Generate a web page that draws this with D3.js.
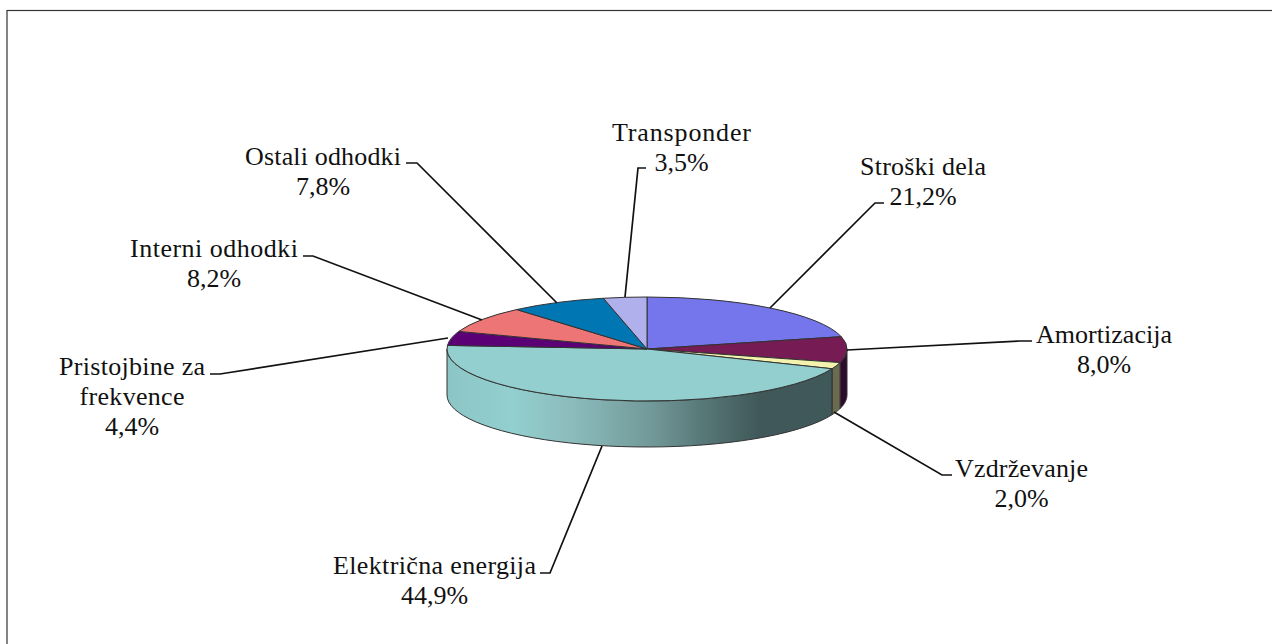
<!DOCTYPE html>
<html><head><meta charset="utf-8">
<script src="https://cdnjs.cloudflare.com/ajax/libs/d3/7.8.5/d3.min.js"></script>
<style>html,body{margin:0;padding:0;background:#fff}svg{display:block}
text{font-family:"Liberation Serif",serif;font-size:26px;fill:#111;text-anchor:middle}</style>
</head><body><script>
const values=[21.2,8.0,2.0,44.9,4.4,8.2,7.8,3.5];
const labelLines=[["Stroški dela","21,2%"],["Amortizacija","8,0%"],["Vzdrževanje","2,0%"],["Električna energija","44,9%"],["Pristojbine za","frekvence","4,4%"],["Interni odhodki","8,2%"],["Ostali odhodki","7,8%"],["Transponder","3,5%"]];
const labelLineWidths=[[126,0],[136,0],[133,0],[203,0],[146,105,0],[168,0],[156,0],[139,0]];
const topColors=["#7575ec","#761b54","#f3f3ad","#93cfcf","#5b0075","#ee7575","#0076b2","#b0b0ec"];
const wallColors=["#5050a0","#2e0a2c","#6b6b50","#3f5859","#3a004a","#a05050","#00507a","#7878a0"];
const labelCenterX=[923,1104,1021.5,434.5,132,214,323,681.5];
const labelBaseY=[175,343,477,574,375,257,165,141];
const leaderStart=[[884,203],[1032,341],[952,475],[540,573],[210,374],[303,256],[406,163],[646,168]];
const leaderElbow=[[875,203],[1020,341],[942,475],[550,573],[220,374],[313,256],[417,163],[638,168]];
const leaderEnd=[[770,308],[847,350],[834,412],[602,446],[448,338],[482,320],[557,303],[625,297]];
const tealStops=[[0,"#8cc5c5"],[.16,"#93cfcf"],[.31,"#8cbcbc"],[.51,"#729999"],[.63,"#5a7a7a"],[.78,"#405859"],[1,"#3f5859"]];

const W=1272,H=644,cx=647,cy=349,rx=200,ry=52,depth=46;
const svg=d3.select("body").append("svg").attr("width",W).attr("height",H);
svg.append("rect").attr("x",7).attr("y",10.5).attr("width",W+10).attr("height",H+10).attr("fill","#fff").attr("stroke","#333").attr("stroke-width",1.2);

const arcs=d3.pie().sort(null).value(d=>d)(values);
const px=a=>cx+rx*Math.sin(a), py=a=>cy-ry*Math.cos(a);
const grad=svg.append("defs").append("linearGradient").attr("id","teal").attr("gradientUnits","userSpaceOnUse").attr("x1",cx-rx).attr("x2",cx+rx).attr("y1",0).attr("y2",0);
tealStops.forEach(s=>grad.append("stop").attr("offset",s[0]).attr("stop-color",s[1]));

const line=d3.line();
arcs.forEach((d,i)=>{
  const a0=Math.max(d.startAngle,Math.PI/2), a1=Math.min(d.endAngle,Math.PI*1.5);
  if(a1<=a0) return;
  const s=d3.range(0,41).map(k=>a0+(a1-a0)*k/40);
  const pts=s.map(a=>[px(a),py(a)]).concat(s.slice().reverse().map(a=>[px(a),py(a)+depth]));
  svg.append("path").attr("d",line(pts)+"Z").attr("fill",i===3?"url(#teal)":wallColors[i]).attr("stroke","#333").attr("stroke-width",1).attr("stroke-linejoin","round");
});
const arcGen=d3.arc().innerRadius(0).outerRadius(rx);
svg.append("g").attr("transform",`translate(${cx},${cy}) scale(1,${ry/rx})`)
  .selectAll("path").data(arcs).join("path").attr("d",arcGen).attr("fill",(d,i)=>topColors[i])
  .attr("stroke","#333").attr("stroke-width",1).attr("vector-effect","non-scaling-stroke").attr("stroke-linejoin","round");

leaderStart.forEach((p,i)=>{
  svg.append("path").attr("d",line([p,leaderElbow[i],leaderEnd[i]])).attr("fill","none").attr("stroke","#111").attr("stroke-width",1.7);
});
labelLines.forEach((ls,i)=>{
  ls.forEach((s,k)=>{
    const t=svg.append("text").attr("x",labelCenterX[i]).attr("y",labelBaseY[i]+k*30).text(s);
    if(labelLineWidths[i][k]) t.attr("textLength",labelLineWidths[i][k]).attr("lengthAdjust","spacing");
  });
});
</script></body></html>
